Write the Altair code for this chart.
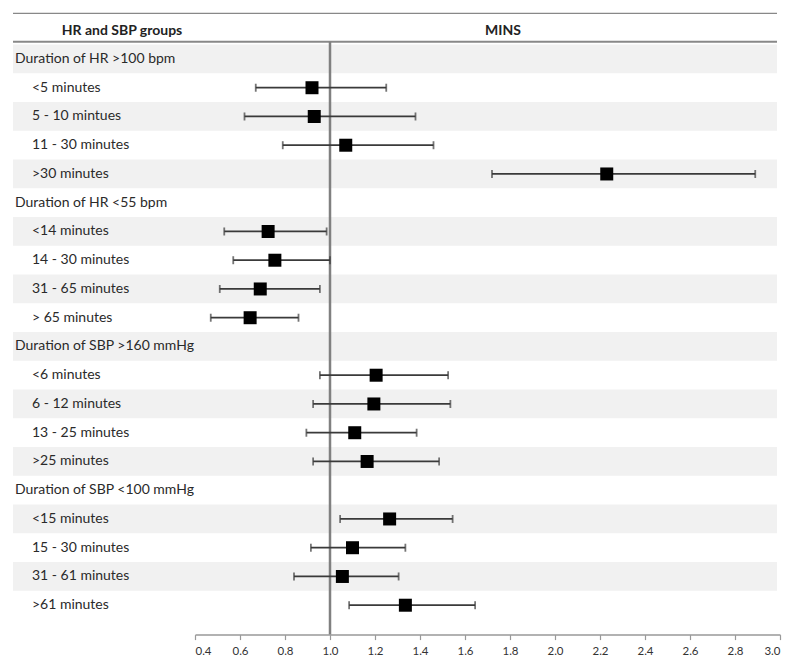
import altair as alt
import pandas as pd

labels = [
    "Duration of HR >100 bpm", "<5 minutes", "5 - 10 mintues", "11 - 30 minutes", ">30 minutes",
    "Duration of HR <55 bpm", "<14 minutes", "14 - 30 minutes", "31 - 65 minutes", "> 65 minutes",
    "Duration of SBP >160 mmHg", "<6 minutes", "6 - 12 minutes", "13 - 25 minutes", ">25 minutes",
    "Duration of SBP <100 mmHg", "<15 minutes", "15 - 30 minutes", "31 - 61 minutes", ">61 minutes",
]
is_group = [True, False, False, False, False,
            True, False, False, False, False,
            True, False, False, False, False,
            True, False, False, False, False]
estimate = [None, 0.92, 0.93, 1.07, 2.23,
            None, 0.725, 0.755, 0.69, 0.645,
            None, 1.205, 1.195, 1.11, 1.165,
            None, 1.265, 1.10, 1.055, 1.335]
lower = [None, 0.67, 0.62, 0.79, 1.72,
         None, 0.53, 0.57, 0.51, 0.47,
         None, 0.955, 0.925, 0.895, 0.925,
         None, 1.045, 0.915, 0.84, 1.085]
upper = [None, 1.25, 1.38, 1.46, 2.89,
         None, 0.985, 1.0, 0.955, 0.86,
         None, 1.525, 1.535, 1.385, 1.485,
         None, 1.545, 1.335, 1.305, 1.645]
x_ticks = [0.4, 0.6, 0.8, 1.0, 1.2, 1.4, 1.6, 1.8, 2.0, 2.2, 2.4, 2.6, 2.8, 3.0]
reference_value = [1.0]
col_titles = ["HR and SBP groups", "MINS"]

df = pd.DataFrame({
    "idx": list(range(len(labels))),
    "label": labels,
    "group": is_group,
    "est": estimate,
    "lo": lower,
    "hi": upper,
})
df["shade"] = df["idx"] % 2 == 0
pts = df.dropna(subset=["est"])

FONT = "Lato"
W, H = 585, 575
LEFT = -182
RIGHT = 582

xscale = alt.Scale(domain=[0.4, 3.0], nice=False, zero=False)
yenc = alt.Y("idx:O", axis=None, scale=alt.Scale(paddingInner=0, paddingOuter=0))

base = alt.Chart(df)

bands = base.transform_filter("datum.shade").mark_rect(color="#f1f1f1").encode(
    x=alt.value(LEFT), x2=alt.value(RIGHT), y=yenc
)

group_text = base.transform_filter("datum.group").mark_text(
    align="left", baseline="middle", font=FONT, fontSize=14, color="#2a2a2a"
).encode(x=alt.value(-180), y=yenc, text="label:N")

item_text = base.transform_filter("!datum.group").mark_text(
    align="left", baseline="middle", font=FONT, fontSize=14, color="#2a2a2a"
).encode(x=alt.value(-163), y=yenc, text="label:N")

chrome = alt.Chart(pd.DataFrame({"k": [0]}))
top_line = chrome.mark_rule(color="#888", strokeWidth=1.2).encode(
    x=alt.value(LEFT), x2=alt.value(RIGHT), y=alt.value(-31.3)
)
head_line = chrome.mark_rule(color="#888", strokeWidth=2).encode(
    x=alt.value(LEFT), x2=alt.value(RIGHT), y=alt.value(-2.9)
)
title1 = chrome.mark_text(font=FONT, fontSize=14, fontWeight="bold", color="#222",
                          baseline="middle", align="center", text=col_titles[0]).encode(
    x=alt.value(-73), y=alt.value(-14)
)
title2 = chrome.mark_text(font=FONT, fontSize=14, fontWeight="bold", color="#222",
                          baseline="middle", align="center", text=col_titles[1]).encode(
    x=alt.value(308), y=alt.value(-14)
)

ref = alt.Chart(pd.DataFrame({"ref": reference_value})).mark_rule(
    color="#808080", strokeWidth=2.5
).encode(x=alt.X("ref:Q", scale=xscale), y=alt.value(-2.9), y2=alt.value(H + 15))

pbase = alt.Chart(pts)
ci = pbase.mark_rule(color="#3a3a3a", strokeWidth=1.7).encode(
    x=alt.X("lo:Q", scale=xscale), x2="hi:Q", y=yenc
)
cap_lo = pbase.mark_tick(color="#3a3a3a", orient="vertical", size=8, thickness=1.8).encode(
    x=alt.X("lo:Q", scale=xscale), y=yenc
)
cap_hi = pbase.mark_tick(color="#3a3a3a", orient="vertical", size=8, thickness=1.8).encode(
    x=alt.X("hi:Q", scale=xscale), y=yenc
)
squares = pbase.mark_point(shape="square", filled=True, color="#000", size=169, opacity=1).encode(
    x=alt.X("est:Q", scale=xscale,
            axis=alt.Axis(values=x_ticks, format=".1f", title=None, grid=False, offset=15,
                          domainColor="#999", domainWidth=1.5, tickColor="#999", tickSize=5,
                          tickWidth=1.2, labelFont=FONT, labelFontSize=11.5, labelColor="#333",
                          labelPadding=6)),
    y=yenc,
)

chart = alt.layer(
    bands, top_line, head_line, title1, title2, group_text, item_text,
    ref, ci, cap_lo, cap_hi, squares
).properties(
    width=W, height=H,
    autosize=alt.AutoSizeParams(type="none"),
    padding={"left": 187, "top": 36.6, "right": 12, "bottom": 40},
).configure_view(stroke=None)

chart.save("out.html", embed_options={"renderer": "svg", "actions": False})
